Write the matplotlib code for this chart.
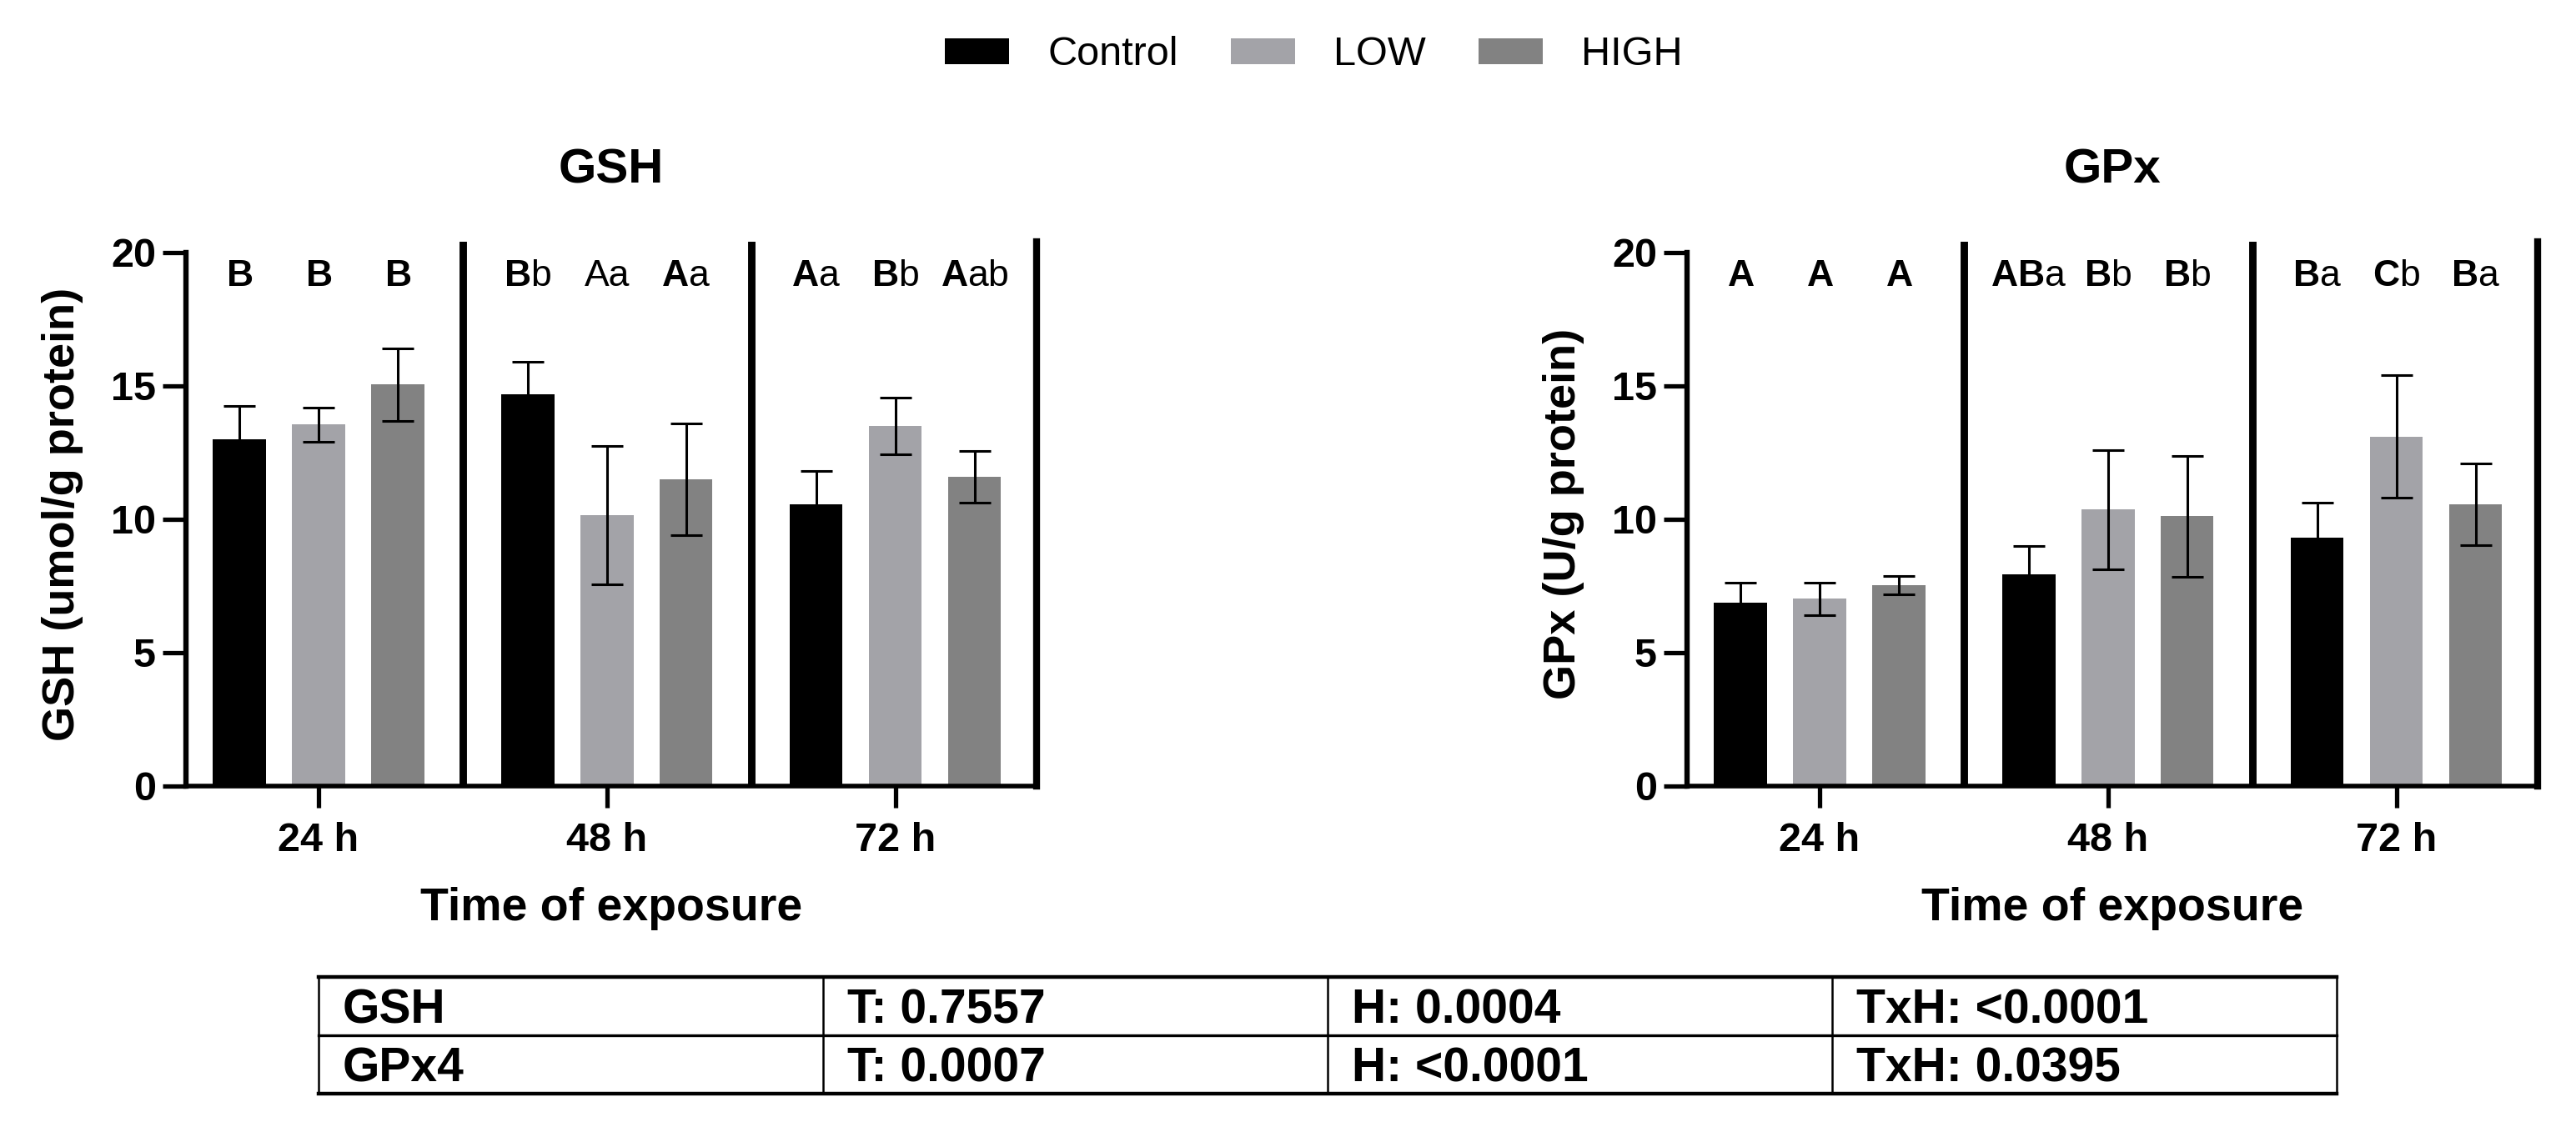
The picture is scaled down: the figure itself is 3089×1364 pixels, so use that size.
import matplotlib
matplotlib.use("Agg")
import matplotlib.pyplot as plt
from matplotlib.patches import Patch
import numpy as np

plt.rcParams['font.family'] = ['Liberation Sans', 'DejaVu Sans']
plt.rcParams['mathtext.fontset'] = 'custom'
plt.rcParams['mathtext.rm'] = 'Liberation Sans'
plt.rcParams['mathtext.bf'] = 'Liberation Sans:bold'

# ---------------- data ----------------
times = ['24 h', '48 h', '72 h']
treatments = ['Control', 'LOW', 'HIGH']
colors = ['#000000', '#a3a3a8', '#828282']

gsh_control = [13.0, 14.7, 10.55]
gsh_low = [13.55, 10.15, 13.5]
gsh_high = [15.05, 11.5, 11.6]
gsh_control_err = [1.25, 1.2, 1.27]
gsh_low_err = [0.65, 2.6, 1.05]
gsh_high_err = [1.35, 2.1, 0.97]

gpx_control = [6.87, 7.95, 9.3]
gpx_low = [7.02, 10.36, 13.1]
gpx_high = [7.54, 10.12, 10.56]
gpx_control_err = [0.77, 1.06, 1.31]
gpx_low_err = [0.6, 2.23, 2.3]
gpx_high_err = [0.35, 2.27, 1.53]

gsh_letters_control = [r'$\mathbf{B}$', r'$\mathbf{B}$b', r'$\mathbf{A}$a']
gsh_letters_low = [r'$\mathbf{B}$', 'Aa', r'$\mathbf{B}$b']
gsh_letters_high = [r'$\mathbf{B}$', r'$\mathbf{A}$a', r'$\mathbf{A}$ab']

gpx_letters_control = [r'$\mathbf{A}$', r'$\mathbf{AB}$a', r'$\mathbf{B}$a']
gpx_letters_low = [r'$\mathbf{A}$', r'$\mathbf{B}$b', r'$\mathbf{C}$b']
gpx_letters_high = [r'$\mathbf{A}$', r'$\mathbf{B}$b', r'$\mathbf{B}$a']

table_header = ['GSH', 'T: 0.7557', 'H: 0.0004', 'TxH: <0.0001']
table_row2 = ['GPx4', 'T: 0.0007', 'H: <0.0001', 'TxH: 0.0395']

panels = [
    dict(title='GSH', ylabel='GSH (umol/g protein)',
         means=[gsh_control, gsh_low, gsh_high],
         errs=[gsh_control_err, gsh_low_err, gsh_high_err],
         letters=[gsh_letters_control, gsh_letters_low, gsh_letters_high]),
    dict(title='GPx', ylabel='GPx (U/g protein)',
         means=[gpx_control, gpx_low, gpx_high],
         errs=[gpx_control_err, gpx_low_err, gpx_high_err],
         letters=[gpx_letters_control, gpx_letters_low, gpx_letters_high]),
]

# ---------------- figure ----------------
W, H = 3089, 1364
fig = plt.figure(figsize=(W / 200, H / 200), dpi=200)

ax_bottom_px, ax_top_px = 943, 290
ax_h = (ax_bottom_px - ax_top_px) / H
ax_b = 1 - ax_bottom_px / H
ymax = 20 * (ax_bottom_px - ax_top_px) / (ax_bottom_px - 303)
lefts_px = [223, 2023]
ax_w_px = 1020

offsets = [-0.2746, 0.0, 0.2746]
bar_w = 0.1835
x = np.arange(len(times))

for p, left_px in zip(panels, lefts_px):
    ax = fig.add_axes([left_px / W, ax_b, ax_w_px / W, ax_h])
    for j in range(3):
        xs = x + offsets[j]
        ax.bar(xs, p['means'][j], width=bar_w, color=colors[j], zorder=2)
        ax.errorbar(xs, p['means'][j], yerr=p['errs'][j], fmt='none',
                    ecolor='black', elinewidth=1.1, capsize=7, capthick=1.1, zorder=3)
        for xi, lab in zip(xs, p['letters'][j]):
            ax.text(xi, 18.75, lab, ha='center', va='baseline', fontsize=16, zorder=4)
    for d in [0.5, 1.5]:
        ax.axvline(d, color='black', lw=3.2, zorder=4)
    ax.set_xlim(-0.46, 2.49)
    ax.set_ylim(0, ymax)
    ax.set_yticks([0, 5, 10, 15, 20])
    ax.set_xticks(x)
    ax.set_xticklabels(times, fontsize=17.5, fontweight='bold')
    for t in ax.get_yticklabels():
        t.set_fontsize(17.5)
        t.set_fontweight('bold')
    ax.spines['top'].set_visible(False)
    ax.spines['left'].set_bounds(0, 20)
    ax.spines['left'].set_linewidth(2.3)
    ax.spines['bottom'].set_linewidth(2.0)
    ax.spines['right'].set_linewidth(3.0)
    ax.tick_params(axis='y', length=10, width=1.9, pad=3)
    ax.tick_params(axis='x', length=9.5, width=1.9, pad=6)
    ax.set_ylabel(p['ylabel'], fontsize=19.5, fontweight='bold', labelpad=12)
    ax.set_xlabel('Time of exposure', fontsize=20, fontweight='bold', labelpad=12)
    fig.text((left_px + ax_w_px / 2) / W, 1 - 205 / H, p['title'],
             ha='center', va='center', fontsize=21, fontweight='bold')

# legend
handles = [Patch(facecolor=c, edgecolor='none') for c in colors]
fig.legend(handles, treatments, loc='center', bbox_to_anchor=(0.51, 1 - 66 / H),
           ncol=3, frameon=False, fontsize=17.5, handlelength=1.58, handleheight=0.62,
           handletextpad=0.95, columnspacing=1.3)

# table
t_left, t_right, t_top, t_bot = 382, 2802, 1172, 1312
tax = fig.add_axes([t_left / W, 1 - t_bot / H, (t_right - t_left) / W, (t_bot - t_top) / H])
tax.set_xlim(0, 4)
tax.set_ylim(0, 2)
tax.axis('off')
tax.plot([0, 4], [2, 2], color='black', lw=1.6, clip_on=False)
tax.plot([0, 4], [0, 0], color='black', lw=1.6, clip_on=False)
tax.plot([0, 4], [1, 1], color='black', lw=1.2, clip_on=False)
for c in range(5):
    tax.plot([c, c], [0, 2], color='black', lw=0.9, clip_on=False)
rows = [table_header, table_row2]
for r, row in enumerate(rows):
    ybase = 2 - r - 1 + 0.2
    for c, txt in enumerate(row):
        tax.text(c + 0.048, ybase, txt, ha='left', va='baseline',
                 fontsize=20.5, fontweight='bold')

fig.savefig('out.png', dpi=200, facecolor='white')
